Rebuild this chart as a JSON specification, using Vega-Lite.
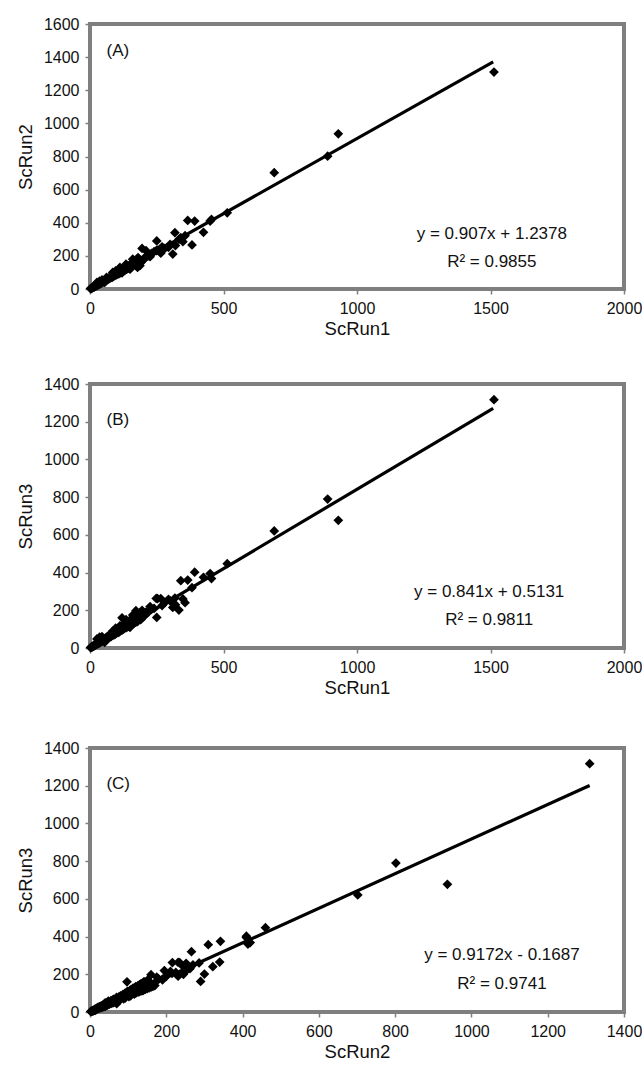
{
  "$schema": "https://vega.github.io/schema/vega-lite/v6.json",
  "background": "white",
  "padding": {"left": 14, "top": 14, "right": 2, "bottom": 4},
  "spacing": 34,
  "config": {
    "font": "Liberation Sans",
    "view": {"stroke": "#7f7f7f", "strokeWidth": 4},
    "axis": {
      "grid": false,
      "domain": false,
      "tickColor": "#7f7f7f",
      "tickSize": 5,
      "tickWidth": 1.5,
      "labelFont": "Liberation Sans",
      "labelFontSize": 16,
      "labelColor": "#111",
      "labelOverlap": false,
      "labelSeparation": 0,
      "format": "d",
      "titleFont": "Liberation Sans",
      "titleFontSize": 18.5,
      "titleFontWeight": "normal",
      "titleColor": "#111",
      "labelPadding": 6
    },
    "axisX": {"titlePadding": 3, "labelFlush": false},
    "axisY": {"titlePadding": 8, "labelOverlap": false, "labelBound": false},
    "axisQuantitative": {"labelOverlap": false}
  },
  "datasets": {
    "genes": [
      {"r1":1513,"r2":1310,"r3":1317},
      {"r1":930,"r2":937,"r3":677},
      {"r1":890,"r2":802,"r3":790},
      {"r1":690,"r2":702,"r3":621},
      {"r1":514,"r2":460,"r3":447},
      {"r1":455,"r2":420,"r3":368},
      {"r1":450,"r2":410,"r3":395},
      {"r1":425,"r2":342,"r3":375},
      {"r1":392,"r2":410,"r3":402},
      {"r1":366,"r2":414,"r3":360},
      {"r1":382,"r2":266,"r3":320},
      {"r1":356,"r2":322,"r3":240},
      {"r1":318,"r2":340,"r3":265},
      {"r1":348,"r2":286,"r3":260},
      {"r1":333,"r2":300,"r3":201},
      {"r1":310,"r2":211,"r3":215},
      {"r1":294,"r2":252,"r3":258},
      {"r1":340,"r2":310,"r3":357},
      {"r1":320,"r2":262,"r3":230},
      {"r1":250,"r2":290,"r3":162},
      {"r1":248,"r2":231,"r3":263},
      {"r1":253,"r2":235,"r3":262},
      {"r1":265,"r2":216,"r3":262},
      {"r1":210,"r2":231,"r3":190},
      {"r1":195,"r2":245,"r3":200},
      {"r1":187,"r2":141,"r3":160},
      {"r1":120,"r2":97,"r3":160},
      {"r1":172,"r2":160,"r3":198},
      {"r1":218,"r2":200,"r3":189},
      {"r1":230,"r2":215,"r3":205},
      {"r1":240,"r2":225,"r3":210},
      {"r1":205,"r2":190,"r3":175},
      {"r1":200,"r2":175,"r3":165},
      {"r1":225,"r2":195,"r3":220},
      {"r1":280,"r2":245,"r3":240},
      {"r1":300,"r2":270,"r3":250},
      {"r1":270,"r2":255,"r3":225},
      {"r1":185,"r2":175,"r3":185},
      {"r1":190,"r2":160,"r3":150},
      {"r1":180,"r2":190,"r3":170},
      {"r1":178,"r2":130,"r3":140},
      {"r1":2,"r2":3,"r3":2},
      {"r1":4,"r2":2,"r3":3},
      {"r1":5,"r2":6,"r3":4},
      {"r1":7,"r2":5,"r3":6},
      {"r1":8,"r2":9,"r3":6},
      {"r1":10,"r2":8,"r3":9},
      {"r1":12,"r2":11,"r3":10},
      {"r1":13,"r2":14,"r3":9},
      {"r1":15,"r2":12,"r3":14},
      {"r1":17,"r2":16,"r3":13},
      {"r1":18,"r2":15,"r3":17},
      {"r1":20,"r2":19,"r3":16},
      {"r1":22,"r2":18,"r3":20},
      {"r1":24,"r2":23,"r3":19},
      {"r1":25,"r2":21,"r3":24},
      {"r1":27,"r2":26,"r3":22},
      {"r1":29,"r2":24,"r3":27},
      {"r1":30,"r2":29,"r3":23},
      {"r1":32,"r2":27,"r3":30},
      {"r1":34,"r2":33,"r3":26},
      {"r1":35,"r2":30,"r3":33},
      {"r1":37,"r2":36,"r3":28},
      {"r1":39,"r2":33,"r3":35},
      {"r1":40,"r2":38,"r3":31},
      {"r1":42,"r2":36,"r3":40},
      {"r1":44,"r2":42,"r3":35},
      {"r1":46,"r2":39,"r3":44},
      {"r1":48,"r2":46,"r3":37},
      {"r1":50,"r2":43,"r3":47},
      {"r1":52,"r2":50,"r3":41},
      {"r1":55,"r2":52,"r3":44},
      {"r1":58,"r2":48,"r3":52},
      {"r1":60,"r2":57,"r3":46},
      {"r1":63,"r2":55,"r3":58},
      {"r1":65,"r2":62,"r3":50},
      {"r1":68,"r2":60,"r3":64},
      {"r1":70,"r2":66,"r3":55},
      {"r1":73,"r2":62,"r3":67},
      {"r1":75,"r2":72,"r3":58},
      {"r1":78,"r2":68,"r3":72},
      {"r1":80,"r2":76,"r3":62},
      {"r1":83,"r2":70,"r3":78},
      {"r1":86,"r2":80,"r3":68},
      {"r1":88,"r2":76,"r3":80},
      {"r1":90,"r2":88,"r3":70},
      {"r1":93,"r2":80,"r3":86},
      {"r1":95,"r2":92,"r3":74},
      {"r1":98,"r2":86,"r3":92},
      {"r1":100,"r2":94,"r3":80},
      {"r1":103,"r2":90,"r3":95},
      {"r1":105,"r2":102,"r3":82},
      {"r1":108,"r2":92,"r3":100},
      {"r1":110,"r2":106,"r3":86},
      {"r1":113,"r2":98,"r3":110},
      {"r1":115,"r2":108,"r3":92},
      {"r1":118,"r2":104,"r3":112},
      {"r1":120,"r2":116,"r3":95},
      {"r1":123,"r2":106,"r3":118},
      {"r1":125,"r2":120,"r3":100},
      {"r1":128,"r2":112,"r3":125},
      {"r1":130,"r2":126,"r3":105},
      {"r1":133,"r2":116,"r3":128},
      {"r1":135,"r2":130,"r3":108},
      {"r1":138,"r2":120,"r3":135},
      {"r1":140,"r2":136,"r3":112},
      {"r1":143,"r2":126,"r3":140},
      {"r1":145,"r2":140,"r3":115},
      {"r1":148,"r2":130,"r3":145},
      {"r1":150,"r2":145,"r3":120},
      {"r1":153,"r2":134,"r3":150},
      {"r1":155,"r2":150,"r3":124},
      {"r1":158,"r2":140,"r3":155},
      {"r1":160,"r2":155,"r3":128},
      {"r1":163,"r2":144,"r3":160},
      {"r1":165,"r2":160,"r3":132},
      {"r1":168,"r2":150,"r3":165},
      {"r1":170,"r2":165,"r3":136},
      {"r1":173,"r2":152,"r3":170},
      {"r1":175,"r2":170,"r3":140},
      {"r1":26,"r2":40,"r3":48},
      {"r1":36,"r2":48,"r3":58},
      {"r1":45,"r2":55,"r3":60},
      {"r1":55,"r2":40,"r3":30},
      {"r1":62,"r2":70,"r3":44},
      {"r1":85,"r2":100,"r3":90},
      {"r1":96,"r2":110,"r3":105},
      {"r1":112,"r2":130,"r3":118},
      {"r1":135,"r2":150,"r3":150},
      {"r1":150,"r2":120,"r3":110},
      {"r1":160,"r2":180,"r3":175}
    ],
    "lineA": [{"x": 0, "y": 1.24}, {"x": 1510, "y": 1370.8}],
    "lineB": [{"x": 0, "y": 0.51}, {"x": 1510, "y": 1270.4}],
    "lineC": [{"x": 0, "y": -0.17}, {"x": 1310, "y": 1201.4}],
    "one": [{}]
  },
  "vconcat": [
    {
      "width": 534,
      "height": 265,
      "layer": [
        {
          "data": {"name": "genes"},
          "mark": {"type": "point", "shape": "diamond", "filled": true, "color": "#000", "size": 95, "opacity": 1},
          "encoding": {
            "x": {"field": "r1", "type": "quantitative", "title": "ScRun1", "scale": {"domain": [0, 2000], "nice": false}, "axis": {"values": [0, 500, 1000, 1500, 2000], "labelOverlap": false}},
            "y": {"field": "r2", "type": "quantitative", "title": "ScRun2", "scale": {"domain": [0, 1600], "nice": false}, "axis": {"values": [0, 200, 400, 600, 800, 1000, 1200, 1400, 1600], "tickCount": 9, "labelOverlap": false, "labelBound": false}}
          }
        },
        {
          "data": {"name": "lineA"},
          "mark": {"type": "line", "color": "#000", "strokeWidth": 3.2},
          "encoding": {"x": {"field": "x", "type": "quantitative"}, "y": {"field": "y", "type": "quantitative"}}
        },
        {
          "data": {"name": "one"},
          "mark": {"type": "text", "fontSize": 17, "font": "Liberation Sans", "color": "#111", "align": "left"},
          "encoding": {"x": {"datum": 62}, "y": {"datum": 1440}, "text": {"value": "(A)"}}
        },
        {
          "data": {"name": "one"},
          "mark": {"type": "text", "fontSize": 17, "font": "Liberation Sans", "color": "#111", "align": "center"},
          "encoding": {"x": {"datum": 1505}, "y": {"datum": 330}, "text": {"value": "y = 0.907x + 1.2378"}}
        },
        {
          "data": {"name": "one"},
          "mark": {"type": "text", "fontSize": 17, "font": "Liberation Sans", "color": "#111", "align": "center"},
          "encoding": {"x": {"datum": 1505}, "y": {"datum": 163}, "text": {"value": "R² = 0.9855"}}
        }
      ]
    },
    {
      "spacing": 39,
      "vconcat": [
        {
          "width": 534,
          "height": 264,
          "layer": [
            {
              "data": {"name": "genes"},
              "mark": {"type": "point", "shape": "diamond", "filled": true, "color": "#000", "size": 95, "opacity": 1},
              "encoding": {
                "x": {"field": "r1", "type": "quantitative", "title": "ScRun1", "scale": {"domain": [0, 2000], "nice": false}, "axis": {"values": [0, 500, 1000, 1500, 2000], "labelOverlap": false}},
                "y": {"field": "r3", "type": "quantitative", "title": "ScRun3", "scale": {"domain": [0, 1400], "nice": false}, "axis": {"values": [0, 200, 400, 600, 800, 1000, 1200, 1400], "tickCount": 8, "labelOverlap": false, "labelBound": false}}
              }
            },
            {
              "data": {"name": "lineB"},
              "mark": {"type": "line", "color": "#000", "strokeWidth": 3.2},
              "encoding": {"x": {"field": "x", "type": "quantitative"}, "y": {"field": "y", "type": "quantitative"}}
            },
            {
              "data": {"name": "one"},
              "mark": {"type": "text", "fontSize": 17, "font": "Liberation Sans", "color": "#111", "align": "left"},
              "encoding": {"x": {"datum": 62}, "y": {"datum": 1210}, "text": {"value": "(B)"}}
            },
            {
              "data": {"name": "one"},
              "mark": {"type": "text", "fontSize": 17, "font": "Liberation Sans", "color": "#111", "align": "center"},
              "encoding": {"x": {"datum": 1495}, "y": {"datum": 297}, "text": {"value": "y = 0.841x + 0.5131"}}
            },
            {
              "data": {"name": "one"},
              "mark": {"type": "text", "fontSize": 17, "font": "Liberation Sans", "color": "#111", "align": "center"},
              "encoding": {"x": {"datum": 1495}, "y": {"datum": 150}, "text": {"value": "R² = 0.9811"}}
            }
          ]
        },
        {
          "width": 534,
          "height": 264,
          "layer": [
            {
              "data": {"name": "genes"},
              "mark": {"type": "point", "shape": "diamond", "filled": true, "color": "#000", "size": 95, "opacity": 1},
              "encoding": {
                "x": {"field": "r2", "type": "quantitative", "title": "ScRun2", "scale": {"domain": [0, 1400], "nice": false}, "axis": {"values": [0, 200, 400, 600, 800, 1000, 1200, 1400], "labelOverlap": false}},
                "y": {"field": "r3", "type": "quantitative", "title": "ScRun3", "scale": {"domain": [0, 1400], "nice": false}, "axis": {"values": [0, 200, 400, 600, 800, 1000, 1200, 1400], "tickCount": 8, "labelOverlap": false, "labelBound": false}}
              }
            },
            {
              "data": {"name": "lineC"},
              "mark": {"type": "line", "color": "#000", "strokeWidth": 3.2},
              "encoding": {"x": {"field": "x", "type": "quantitative"}, "y": {"field": "y", "type": "quantitative"}}
            },
            {
              "data": {"name": "one"},
              "mark": {"type": "text", "fontSize": 17, "font": "Liberation Sans", "color": "#111", "align": "left"},
              "encoding": {"x": {"datum": 43}, "y": {"datum": 1210}, "text": {"value": "(C)"}}
            },
            {
              "data": {"name": "one"},
              "mark": {"type": "text", "fontSize": 17, "font": "Liberation Sans", "color": "#111", "align": "center"},
              "encoding": {"x": {"datum": 1080}, "y": {"datum": 300}, "text": {"value": "y = 0.9172x - 0.1687"}}
            },
            {
              "data": {"name": "one"},
              "mark": {"type": "text", "fontSize": 17, "font": "Liberation Sans", "color": "#111", "align": "center"},
              "encoding": {"x": {"datum": 1080}, "y": {"datum": 150}, "text": {"value": "R² = 0.9741"}}
            }
          ]
        }
      ]
    }
  ]
}
